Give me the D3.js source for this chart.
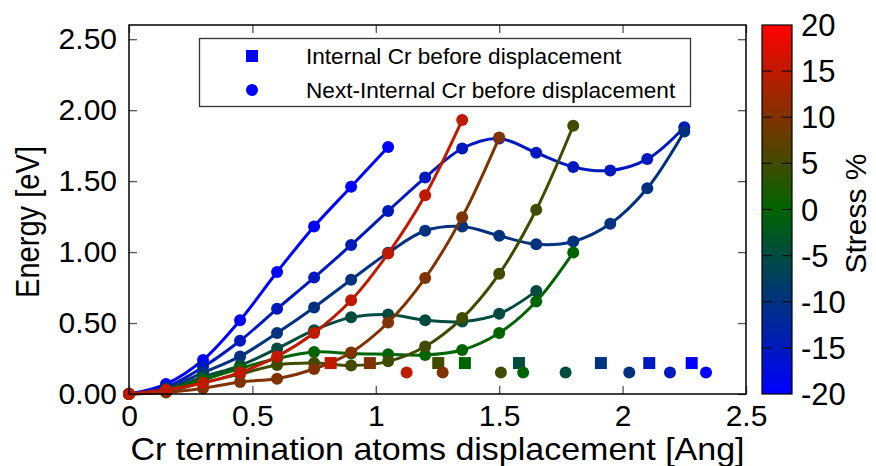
<!DOCTYPE html>
<html>
<head>
<meta charset="utf-8">
<script src="https://cdn.jsdelivr.net/npm/d3@7/dist/d3.min.js"></script>
<style>
  html, body { margin: 0; padding: 0; background: #fff; }
  svg { display: block; font-family: "Liberation Sans", Arial, sans-serif; }
</style>
</head>
<body>
<svg id="chart" width="876" height="466"></svg>
<script>
// Stress level of each curve (%)
const stressLevels = [-20, -15, -10, -5, 0, 5, 10, 15];

// Displacement grid shared by all curves [Ang]
const displacement = [0, 0.15, 0.30, 0.45, 0.60, 0.75, 0.90, 1.05, 1.20, 1.35, 1.50, 1.65, 1.80, 1.95, 2.10, 2.25];

// Energy along each displacement path [eV]
const energyM20 = [0, 0.07, 0.24, 0.52, 0.86, 1.18, 1.46, 1.74];
const energyM15 = [0, 0.05, 0.19, 0.375, 0.60, 0.82, 1.05, 1.29, 1.525, 1.73, 1.80, 1.70, 1.60, 1.575, 1.655, 1.88];
const energyM10 = [0, 0.04, 0.15, 0.265, 0.43, 0.61, 0.805, 0.995, 1.15, 1.18, 1.115, 1.055, 1.075, 1.20, 1.45, 1.85];
const energyM5  = [0, 0.03, 0.12, 0.20, 0.32, 0.45, 0.54, 0.56, 0.52, 0.51, 0.565, 0.725];
const energy0   = [0, 0.03, 0.10, 0.18, 0.25, 0.296, 0.285, 0.28, 0.275, 0.31, 0.43, 0.652, 0.997];
const energyP5  = [0, 0.02, 0.08, 0.14, 0.205, 0.218, 0.20, 0.23, 0.335, 0.535, 0.847, 1.298, 1.89];
const energyP10 = [0, 0.01, 0.04, 0.085, 0.108, 0.176, 0.293, 0.504, 0.817, 1.246, 1.807];
const energyP15 = [0, 0.03, 0.077, 0.152, 0.265, 0.43, 0.66, 0.99, 1.40, 1.93];

// Initial positions of the Internal Cr (squares) and Next-Internal Cr (circles)
const internalX = [2.280, 2.108, 1.912, 1.580, 1.361, 1.253, 0.976, 0.817];
const internalE = [0.218, 0.218, 0.218, 0.218, 0.218, 0.218, 0.218, 0.218];
const nextX     = [2.338, 2.192, 2.027, 1.769, 1.597, 1.507, 1.271, 1.125];
const nextE     = [0.152, 0.152, 0.152, 0.152, 0.152, 0.152, 0.152, 0.152];

// Axis ticks
const xTicks = [0, 0.5, 1, 1.5, 2, 2.5];
const yTicks = [0, 0.5, 1, 1.5, 2, 2.5];
const cbTicks = [-20, -15, -10, -5, 0, 5, 10, 15, 20];

const legendLabels = ["Internal Cr before displacement", "Next-Internal Cr before displacement"];

const energies = [energyM20, energyM15, energyM10, energyM5, energy0, energyP5, energyP10, energyP15];

const svg = d3.select("#chart");
const FONT = 30;

const plot = { left: 129, right: 746, top: 25, bottom: 394 };

const x = d3.scaleLinear().domain([0, 2.5]).range([plot.left, plot.right]);
const y = d3.scaleLinear().domain([0, 2.6]).range([plot.bottom, plot.top]);

// Blue -> green -> red stress colour map
const color = d3.scaleLinear()
  .domain([-20, 0, 20])
  .range(["rgb(0,0,255)", "rgb(0,100,0)", "rgb(255,0,0)"])
  .interpolate(d3.interpolateRgb);

// Axes: ticks point inward on all four sides
const tickLen = 8;
const axisStyle = g => {
  g.select(".domain").remove();
  g.selectAll(".tick line").attr("stroke", "#555").attr("stroke-width", 1.3);
  g.selectAll(".tick text").attr("fill", "#000").style("font-size", FONT + "px")
    .style("font-family", "'Liberation Sans', Arial, sans-serif");
};

svg.append("g")
  .attr("transform", `translate(0,${plot.bottom})`)
  .call(d3.axisBottom(x).tickValues(xTicks).tickFormat(d3.format("")).tickSizeInner(-tickLen).tickSizeOuter(0).tickPadding(11))
  .call(axisStyle);

svg.append("g")
  .attr("transform", `translate(0,${plot.top})`)
  .call(d3.axisTop(x).tickValues(xTicks).tickFormat("").tickSizeInner(-tickLen).tickSizeOuter(0))
  .call(axisStyle);

svg.append("g")
  .attr("transform", `translate(${plot.left},0)`)
  .call(d3.axisLeft(y).tickValues(yTicks).tickFormat(d3.format(".2f")).tickSizeInner(-tickLen).tickSizeOuter(0).tickPadding(12))
  .call(axisStyle);

svg.append("g")
  .attr("transform", `translate(${plot.right},0)`)
  .call(d3.axisRight(y).tickValues(yTicks).tickFormat("").tickSizeInner(-tickLen).tickSizeOuter(0))
  .call(axisStyle);

// Curves
const line = d3.line()
  .x((d, i) => x(displacement[i]))
  .y(d => y(d))
  .curve(d3.curveCatmullRom.alpha(0.5));

const series = svg.append("g");
stressLevels.forEach((s, k) => {
  const g = series.append("g");
  g.append("path")
    .datum(energies[k])
    .attr("fill", "none")
    .attr("stroke", color(s))
    .attr("stroke-width", 3)
    .attr("d", line);
  g.selectAll("circle")
    .data(energies[k])
    .join("circle")
    .attr("cx", (d, i) => x(displacement[i]))
    .attr("cy", d => y(d))
    .attr("r", 6)
    .attr("fill", color(s));
});

// Starting-site markers
const markers = svg.append("g");
const sq = 12;
markers.selectAll("rect")
  .data(stressLevels)
  .join("rect")
  .attr("x", (s, k) => x(internalX[k]) - sq / 2)
  .attr("y", (s, k) => y(internalE[k]) - sq / 2)
  .attr("width", sq).attr("height", sq)
  .attr("fill", s => color(s));
markers.selectAll("circle")
  .data(stressLevels)
  .join("circle")
  .attr("cx", (s, k) => x(nextX[k]))
  .attr("cy", (s, k) => y(nextE[k]))
  .attr("r", 6)
  .attr("fill", s => color(s));

// Plot frame
svg.append("rect")
  .attr("x", plot.left).attr("y", plot.top)
  .attr("width", plot.right - plot.left).attr("height", plot.bottom - plot.top)
  .attr("fill", "none").attr("stroke", "#000").attr("stroke-width", 1.5);

// Legend
const lg = svg.append("g");
lg.append("rect")
  .attr("x", 199.5).attr("y", 38.5).attr("width", 491).attr("height", 68)
  .attr("fill", "#fff").attr("stroke", "#333").attr("stroke-width", 1.3);
lg.append("rect").attr("x", 246).attr("y", 50).attr("width", 12).attr("height", 12).attr("fill", color(-20));
lg.append("circle").attr("cx", 252).attr("cy", 90).attr("r", 6).attr("fill", color(-20));
lg.selectAll("text")
  .data(legendLabels)
  .join("text")
  .attr("x", 306)
  .attr("y", (d, i) => 63.5 + i * 34)
  .style("font-size", "22.6px")
  .attr("fill", "#000")
  .text(d => d);

// Axis titles
svg.append("text")
  .attr("x", (plot.left + plot.right) / 2)
  .attr("y", 460)
  .attr("text-anchor", "middle")
  .attr("textLength", 614)
  .attr("lengthAdjust", "spacingAndGlyphs")
  .style("font-size", "32px")
  .text("Cr termination atoms displacement [Ang]");

svg.append("text")
  .attr("transform", `translate(39,222) rotate(-90)`)
  .attr("text-anchor", "middle")
  .attr("textLength", 152)
  .attr("lengthAdjust", "spacingAndGlyphs")
  .style("font-size", "33px")
  .text("Energy [eV]");

// Colour bar
const cb = { left: 762, right: 792, top: 25, bottom: 394 };
const cbScale = d3.scaleLinear().domain([-20, 20]).range([cb.bottom, cb.top]);
const defs = svg.append("defs");
const grad = defs.append("linearGradient")
  .attr("id", "stressGrad")
  .attr("x1", 0).attr("y1", 1).attr("x2", 0).attr("y2", 0);
d3.range(-20, 20.01, 2.5).forEach(v => {
  grad.append("stop")
    .attr("offset", (v + 20) / 40)
    .attr("stop-color", color(v));
});
svg.append("rect")
  .attr("x", cb.left).attr("y", cb.top)
  .attr("width", cb.right - cb.left).attr("height", cb.bottom - cb.top)
  .attr("fill", "url(#stressGrad)")
  .attr("stroke", "#000").attr("stroke-width", 1.2);

const cbTickG = svg.append("g");
cbTicks.filter(v => v > -20 && v < 20).forEach(v => {
  cbTickG.append("line")
    .attr("x1", cb.left).attr("x2", cb.left + 10)
    .attr("y1", cbScale(v)).attr("y2", cbScale(v))
    .attr("stroke", "#111").attr("stroke-width", 1.2);
  cbTickG.append("line")
    .attr("x1", cb.right - 10).attr("x2", cb.right)
    .attr("y1", cbScale(v)).attr("y2", cbScale(v))
    .attr("stroke", "#111").attr("stroke-width", 1.2);
});
svg.append("g").selectAll("text")
  .data(cbTicks)
  .join("text")
  .attr("x", 801)
  .attr("y", d => cbScale(d) + 11)
  .style("font-size", "31px")
  .text(d => d);

svg.append("text")
  .attr("transform", `translate(866,${(cb.top + cb.bottom) / 2 + 4}) rotate(-90)`)
  .attr("text-anchor", "middle")
  .style("font-size", "30px")
  .text("Stress %");
</script>
</body>
</html>
